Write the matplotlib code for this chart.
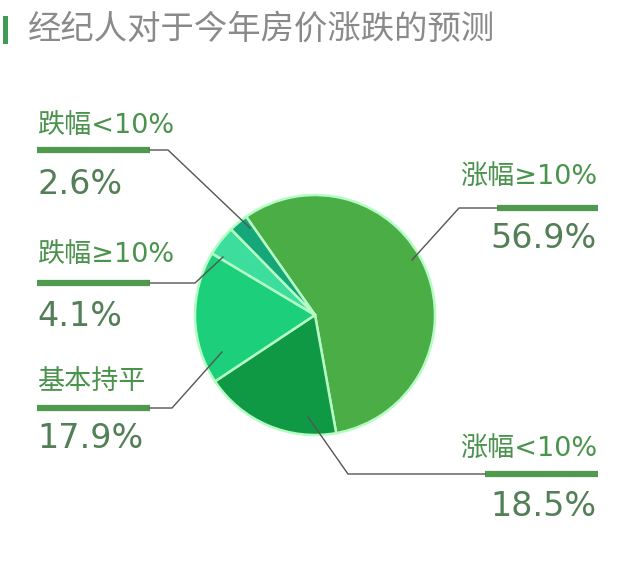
import matplotlib
matplotlib.use("Agg")
import matplotlib.pyplot as plt
import numpy as np

plt.rcParams['font.family'] = ['Noto Sans CJK SC', 'DejaVu Sans']

title = "经纪人对于今年房价涨跌的预测"
categories = ["涨幅≥10%", "涨幅<10%", "基本持平", "跌幅≥10%", "跌幅<10%"]
values = [56.9, 18.5, 17.9, 4.1, 2.6]
value_labels = ["56.9%", "18.5%", "17.9%", "4.1%", "2.6%"]
colors = ["#4aad45", "#0f9944", "#1ccf7b", "#3ddd9e", "#15a67a"]

W, H = 640, 573
fig = plt.figure(figsize=(W / 100, H / 100), dpi=100)
ax = fig.add_axes([0, 0, 1, 1])

def Y(py):
    return H - py

cx, cy, R = 315, 315, 120
wedges, _ = ax.pie(values, colors=colors, startangle=125, counterclock=False,
                   center=(cx, Y(cy)), radius=R, frame=True,
                   wedgeprops=dict(edgecolor="#b4fcc4", linewidth=1.8))
ax.set_xlim(0, W)
ax.set_ylim(0, H)
ax.set_aspect('equal')
ax.axis('off')

# title
ax.add_patch(plt.Rectangle((3, Y(44)), 5, 28, color="#3f9a55", lw=0))
ax.text(28, Y(29), title, fontsize=24, color="#8a8a8a", va='center', ha='left')

label_color = "#4a934c"
num_color = "#527f55"
bar_color = "#4f9a4f"
line_color = "#555555"
lab_family = ['DejaVu Sans', 'Noto Sans CJK SC']

layout = {
    "涨幅≥10%": dict(x=597, ly=178, ny=238, by=208, b0=497, b1=598, ex=459, tip=(412, 260), ha='right'),
    "涨幅<10%": dict(x=597, ly=450, ny=507, by=474, b0=485, b1=598, ex=348, tip=(308, 417), ha='right'),
    "基本持平": dict(x=37, ly=382, ny=438, by=408, b0=37, b1=150, ex=172, tip=(222, 352), ha='left'),
    "跌幅≥10%": dict(x=37, ly=255, ny=317, by=283, b0=37, b1=150, ex=195, tip=(223, 257), ha='left'),
    "跌幅<10%": dict(x=37, ly=126, ny=185, by=150, b0=37, b1=150, ex=168, tip=(250, 228), ha='left'),
}

for cat, vl in zip(categories, value_labels):
    L = layout[cat]
    ax.text(L['x'], Y(L['ly']), cat, fontsize=19.5, color=label_color,
            ha=L['ha'], va='center', family=lab_family)
    ax.text(L['x'], Y(L['ny']), vl, fontsize=24, color=num_color,
            ha=L['ha'], va='center', family=['DejaVu Sans'])
    ax.plot([L['b0'], L['b1']], [Y(L['by'])] * 2, color=bar_color, lw=4.5,
            solid_capstyle='butt')
    inner = L['b0'] if L['ha'] == 'right' else L['b1']
    ax.plot([inner, L['ex'], L['tip'][0]], [Y(L['by']), Y(L['by']), Y(L['tip'][1])],
            color=line_color, lw=1.0)

fig.savefig("out.png", dpi=100, facecolor="white")
